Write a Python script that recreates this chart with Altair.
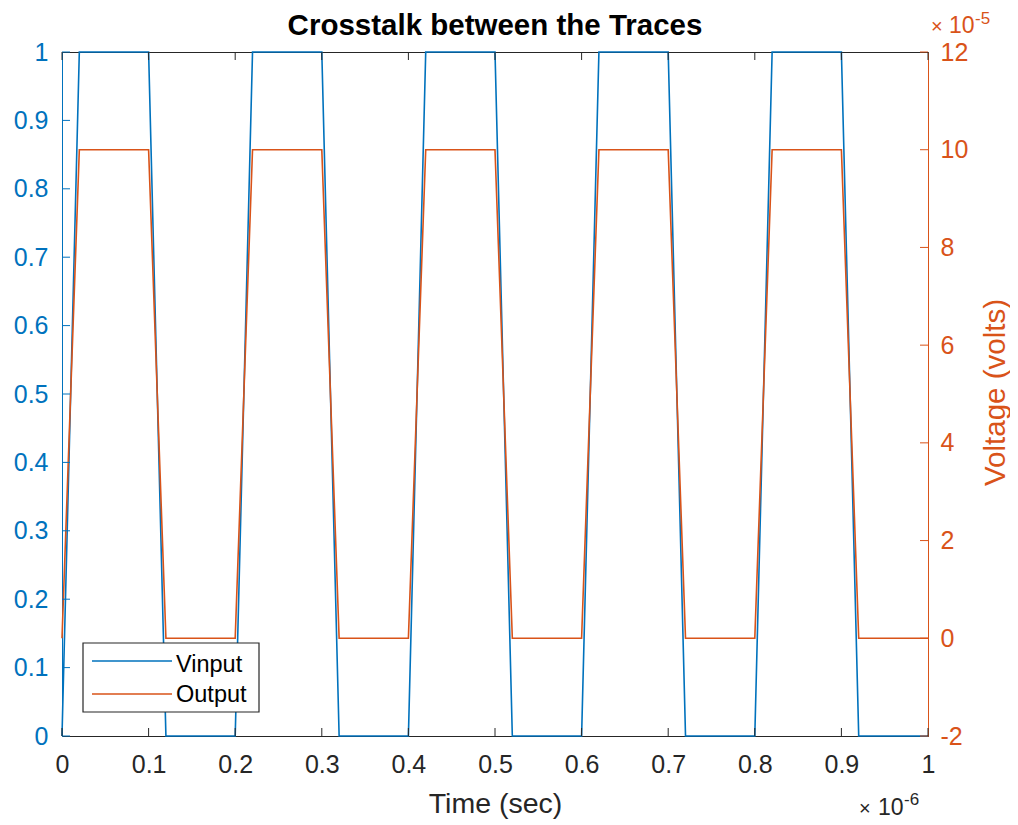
import altair as alt
import pandas as pd

# ---- data (time in units of 1e-6 s, output in units of 1e-5 V) ----
time_us = [0, 0.02, 0.1, 0.12, 0.2, 0.22, 0.3, 0.32, 0.4, 0.42, 0.5, 0.52,
           0.6, 0.62, 0.7, 0.72, 0.8, 0.82, 0.9, 0.92, 1.0]
vinput = [0, 1, 1, 0, 0, 1, 1, 0, 0, 1, 1, 0, 0, 1, 1, 0, 0, 1, 1, 0, 0]
output_e5 = [0, 10, 10, 0, 0, 10, 10, 0, 0, 10, 10, 0, 0, 10, 10, 0, 0, 10, 10, 0, 0]
series_names = ["Vinput", "Output"]
title_text = "Crosstalk between the Traces"
x_ticks = [0, 0.1, 0.2, 0.3, 0.4, 0.5, 0.6, 0.7, 0.8, 0.9, 1.0]
left_ticks = [0, 0.1, 0.2, 0.3, 0.4, 0.5, 0.6, 0.7, 0.8, 0.9, 1.0]
right_ticks = [-2, 0, 2, 4, 6, 8, 10, 12]

W, H = 866, 684
FONT = "Liberation Sans"
BLUE = "#0072BD"
ORANGE = "#D95319"
DARK = "#262626"

df_v = pd.DataFrame({"t": time_us, "v": vinput})
df_o = pd.DataFrame({"t": time_us, "o": output_e5})
df_xt = pd.DataFrame({"t": x_ticks})
df_lt = pd.DataFrame({"v": left_ticks})
df_rt = pd.DataFrame({"o": right_ticks})
one = pd.DataFrame({"k": [0]})

xscale = alt.Scale(domain=[0, 1], nice=False, zero=False)
lscale = alt.Scale(domain=[0, 1], nice=False, zero=False)
rscale = alt.Scale(domain=[-2, 12], nice=False, zero=False)

x_axis = alt.Axis(orient="bottom", values=x_ticks, format="~g", ticks=False, grid=False,
                  labelFlush=False, labelOverlap=False,
                  domainColor=DARK, domainWidth=1,
                  labelColor=DARK, labelFont=FONT, labelFontSize=25, labelPadding=16,
                  title="Time (sec)", titleFont=FONT, titleFontSize=28.5,
                  titleFontWeight="normal", titleColor=DARK,
                  titleX=W / 2, titleY=76, titleBaseline="alphabetic", titleAlign="center")

left_axis = alt.Axis(orient="left", values=left_ticks, format="~g", ticks=False, grid=False,
                     labelFlush=False, labelOverlap=False,
                     domainColor=BLUE, domainWidth=1,
                     labelColor=BLUE, labelFont=FONT, labelFontSize=25, labelPadding=14,
                     title=None)

right_axis = alt.Axis(orient="right", values=right_ticks, labelExpr="'' + datum.value",
                      labelFlush=False, labelOverlap=False,
                      ticks=False, grid=False, domainColor=ORANGE, domainWidth=1,
                      labelColor=ORANGE, labelFont=FONT, labelFontSize=25, labelPadding=12,
                      title="Voltage (volts)", titleFont=FONT, titleFontSize=29.5,
                      titleFontWeight="normal", titleColor=ORANGE, titleAngle=270,
                      titleX=76, titleY=340, titleBaseline="alphabetic", titleAlign="center")

v_line = alt.Chart(df_v).mark_line(color=BLUE, strokeWidth=1.6).encode(
    x=alt.X("t:Q", scale=xscale, axis=x_axis),
    y=alt.Y("v:Q", scale=lscale, axis=left_axis),
)
o_line = alt.Chart(df_o).mark_line(color=ORANGE, strokeWidth=1.6).encode(
    x=alt.X("t:Q", scale=xscale, axis=x_axis),
    y=alt.Y("o:Q", scale=rscale, axis=right_axis),
)
l_ticks = alt.Chart(df_lt).mark_rule(color=BLUE, strokeWidth=1).encode(
    y=alt.Y("v:Q", scale=lscale, axis=None),
    x=alt.value(0), x2=alt.value(8),
)
r_ticks = alt.Chart(df_rt).mark_rule(color=ORANGE, strokeWidth=1).encode(
    y=alt.Y("o:Q", scale=rscale, axis=None),
    x=alt.value(W), x2=alt.value(W - 8),
)
xb_ticks = alt.Chart(df_xt).mark_rule(color=DARK, strokeWidth=1).encode(
    x=alt.X("t:Q", scale=xscale, axis=x_axis),
    y=alt.value(H), y2=alt.value(H - 8),
)
xt_ticks = alt.Chart(df_xt).mark_rule(color=DARK, strokeWidth=1).encode(
    x=alt.X("t:Q", scale=xscale, axis=x_axis),
    y=alt.value(0), y2=alt.value(8),
)

# ---- legend (manual box) ----
box = alt.Chart(one).mark_rect(fill="white", stroke=DARK, strokeWidth=1.2).encode(
    x=alt.value(21), x2=alt.value(197), y=alt.value(591), y2=alt.value(660))
leg_l1 = alt.Chart(one).mark_rule(color=BLUE, strokeWidth=1.6).encode(
    x=alt.value(30), x2=alt.value(110), y=alt.value(609))
leg_l2 = alt.Chart(one).mark_rule(color=ORANGE, strokeWidth=1.6).encode(
    x=alt.value(30), x2=alt.value(110), y=alt.value(642))


def txt(s, x, y, size, color, align="left", weight="normal"):
    return alt.Chart(one).mark_text(align=align, baseline="alphabetic", font=FONT,
                                    fontSize=size, color=color, fontWeight=weight).encode(
        x=alt.value(x), y=alt.value(y), text=alt.value(s))


leg_t1 = txt(series_names[0], 114, 620, 23.5, "#000")
leg_t2 = txt(series_names[1], 114, 650, 23.5, "#000")

title = txt(title_text, W / 2, -17, 29.5, "#000", align="center", weight="bold")

exp_top = [txt("×", 869, -19, 20, ORANGE), txt("10", 887, -19, 23, ORANGE),
           txt("-5", 913, -28, 17, ORANGE)]
exp_bot = [txt("×", 797, 763, 20, DARK), txt("10", 816, 763, 23, DARK),
           txt("-6", 842, 753, 17, DARK)]

chart = alt.layer(
    v_line, o_line, l_ticks, r_ticks, xb_ticks, xt_ticks,
    box, leg_l1, leg_l2, leg_t1, leg_t2, title, *exp_top, *exp_bot
).resolve_scale(
    y="independent"
).properties(
    width=W, height=H,
    autosize=alt.AutoSizeParams(type="none"),
    padding={"left": 54, "top": 44, "right": 82, "bottom": 84},
).configure_view(stroke=DARK, strokeWidth=1)

chart.save("out.html", embed_options={"renderer": "svg", "actions": False})
